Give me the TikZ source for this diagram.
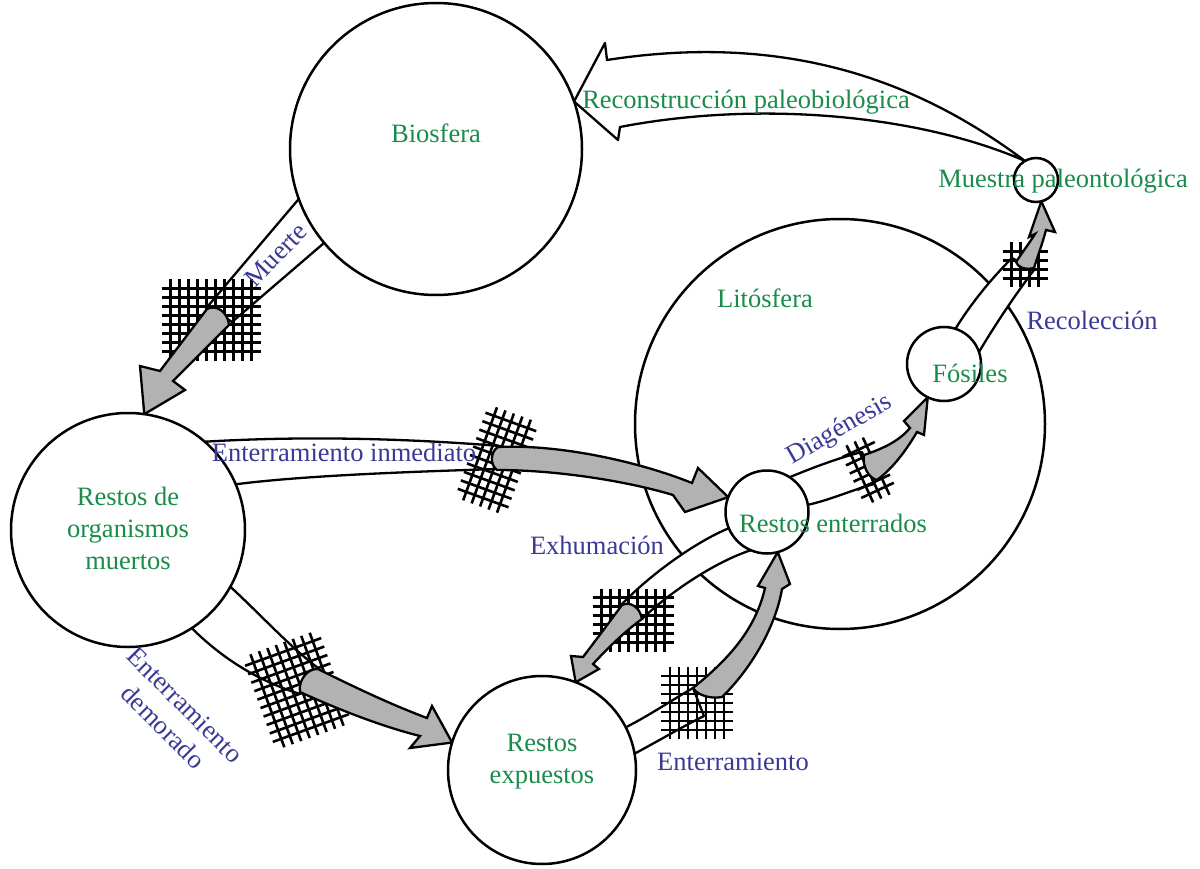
\documentclass[tikz,border=0pt]{standalone}
\usepackage{fontspec}
\setmainfont{Liberation Serif}
\usepackage{xcolor}
\usepackage{tikz}
\definecolor{tfgreen}{HTML}{1A8C4A}
\definecolor{tfblue}{HTML}{3A3A96}
\definecolor{tfgray}{HTML}{B2B2B2}
\pgfdeclarelayer{back}
\pgfdeclarelayer{flow}
\pgfsetlayers{back,flow,main}
\newcommand{\netpatch}[4]{% centre, angle, columns, rows
  \begin{scope}[shift={#1}, rotate=#2]
    \foreach \i in {1,...,#3}
      \draw[netline] ({(\i-(#3+1)/2)*9}, {-(#4+1)*4.5}) -- ++(0, {(#4+1)*9});
    \foreach \j in {1,...,#4}
      \draw[netline] ({-(#3+1)*4.5}, {(\j-(#4+1)/2)*9}) -- ++({(#3+1)*9}, 0);
  \end{scope}}

\begin{document}
\begin{tikzpicture}[
  x=1pt, y=-1pt,
  ring/.style={circle, draw, line width=2.5pt, fill=white, inner sep=0pt, outer sep=0pt},
  band/.style={draw, line width=2.3pt, fill=white, line join=round},
  shaft/.style={draw, line width=2.3pt, fill=tfgray, line join=miter},
  netline/.style={line width=2.6pt},
  state/.style={font=\fontsize{26.5}{32}\selectfont, text=tfgreen, align=center, inner sep=0pt},
  process/.style={font=\fontsize{26.5}{31}\selectfont, text=tfblue, align=center, inner sep=0pt}
]
  \useasboundingbox (0,0) rectangle (1200,869);

  \begin{pgfonlayer}{back}
    \node[ring, minimum size=410pt] (lit) at (840,424) {};
  \end{pgfonlayer}
  \node[ring, minimum size=292pt] (bio) at (436,149) {};
  \node[ring, minimum size=234pt] (rom) at (128,530) {};
  \node[ring, minimum size=188pt] (rex) at (542,770) {};
  \node[ring, minimum size=83pt] (ren) at (767,512) {};
  \node[ring, minimum size=74pt] (fos) at (944,364) {};
  \node[ring, minimum size=44pt] (mue) at (1036,180) {};

  \begin{pgfonlayer}{flow}
  % white bands up to the nets
  \draw[band] (bio.200) -- (208,306) -- (232,322) -- (bio.220) -- cycle;
  \draw[band] (rom.49) .. controls (300,436) and (400,438) .. (500,446) -- (498,469) .. controls (400,472) and (300,476) .. (rom.23) -- cycle;
  \draw[band] (rom.-29) .. controls (262,616) and (288,645) .. (318,668) -- (300,694) .. controls (262,682) and (226,662) .. (rom.-57) -- cycle;
  \draw[band] (ren.203) .. controls (700,540) and (655,570) .. (622,604) -- (642,619) .. controls (670,592) and (715,562) .. (ren.247) -- cycle;
  \draw[band] (rex.27) .. controls (650,715) and (672,700) .. (693,688) -- (704,716) .. controls (680,728) and (660,740) .. (rex.10) -- cycle;
  \draw[band] (ren.57) .. controls (812,468) and (838,458) .. (862,452) -- (874,484) .. controls (852,490) and (830,500) .. (ren.10) -- cycle;
  \draw[band] (fos.72) .. controls (970,305) and (990,280) .. (1012,258) -- (1034,270) .. controls (1015,295) and (995,325) .. (fos.19) -- cycle;
  \draw[band] (mue.120) .. controls (930,90) and (800,30) .. (607,60) -- (605,43) -- (bio.19) -- (618,140) -- (620,127) .. controls (760,100) and (920,115) .. (mue.120) -- cycle;

  % nets
  \netpatch{(211,320)}{0}{10}{8}
  \netpatch{(497,460)}{-20}{5}{10}
  \netpatch{(297,690)}{20}{8}{10}
  \netpatch{(633,620)}{0}{8}{6}
  \netpatch{(697,703)}{0}{7}{7}
  \netpatch{(868,470)}{25}{3}{6}
  \netpatch{(1025,265)}{0}{4}{4}

  % grey arrows after the nets
  \draw[shaft] (207,309) -- (160,371) -- (140,366) -- (rom.82) -- (185,390) -- (173,381) -- (229,325) .. controls (228,312) and (216,304) .. (207,309) -- cycle;
  \draw[shaft] (498,447) .. controls (560,444) and (640,462) .. (692,483) -- (698,468) -- (ren.159) -- (685,512) -- (673,495) .. controls (630,482) and (560,470) .. (497,470) .. controls (490,465) and (490,452) .. (498,447) -- cycle;
  \draw[shaft] (318,669) .. controls (360,690) and (395,706) .. (427,718) -- (432,706) -- (rex.163) -- (410,748) -- (420,736) .. controls (380,726) and (335,708) .. (300,692) .. controls (298,680) and (308,668) .. (318,669) -- cycle;
  \draw[shaft] (622,605) .. controls (608,624) and (593,644) .. (583,657) -- (571,656) -- (rex.69) -- (599,669) -- (593,664) .. controls (607,649) and (624,632) .. (642,619) .. controls (640,607) and (630,601) .. (622,605) -- cycle;
  \draw[shaft] (693,688) .. controls (725,662) and (755,632) .. (765,588) -- (758,586) -- (ren.-75) -- (790,584) -- (782,589) .. controls (775,630) and (748,672) .. (722,697) .. controls (712,699) and (698,696) .. (693,688) -- cycle;
  \draw[shaft] (864,455) .. controls (885,448) and (900,440) .. (910,428) -- (904,421) -- (fos.244) -- (924,435) -- (917,432) .. controls (905,452) and (893,468) .. (877,480) .. controls (868,478) and (862,465) .. (864,455) -- cycle;
  \draw[shaft] (1016,262) .. controls (1024,250) and (1030,242) .. (1035,234) -- (1029,237) -- (mue.-76) -- (1055,232) -- (1046,230) .. controls (1042,245) and (1037,258) .. (1034,268) .. controls (1026,270) and (1018,268) .. (1016,262) -- cycle;
  \end{pgfonlayer}

  \node[state] (bioTxt) at (436,133) {Biosfera};
  \node[state] (romTxt) at (128,528) {Restos de\\organismos\\muertos};
  \node[state] (rexTxt) at (542,762) {Restos\\expuestos};
  \node[state] (litTxt) at (765,298) {Litósfera};
  \node[state] (renTxt) at (833,523) {Restos enterrados};
  \node[state] (fosTxt) at (970,373) {Fósiles};
  \node[state] (mueTxt) at (1063,181) {Muestra paleontológica};
  \node[state] (recTxt) at (746,102) {Reconstrucción paleobiológica};

  \node[process, rotate=46] (muerteTxt) at (276,255) {Muerte};
  \node[process] (inmTxt) at (344,452) {Enterramiento inmediato};
  \node[process, rotate=-45] (demTxt) at (174,716) {Enterramiento\\demorado};
  \node[process] (exhTxt) at (597,545) {Exhumación};
  \node[process] (entTxt) at (733,762) {Enterramiento};
  \node[process, rotate=30] (diaTxt) at (840,430) {Diagénesis};
  \node[process] (recolTxt) at (1092,320) {Recolección};
\end{tikzpicture}
\end{document}
